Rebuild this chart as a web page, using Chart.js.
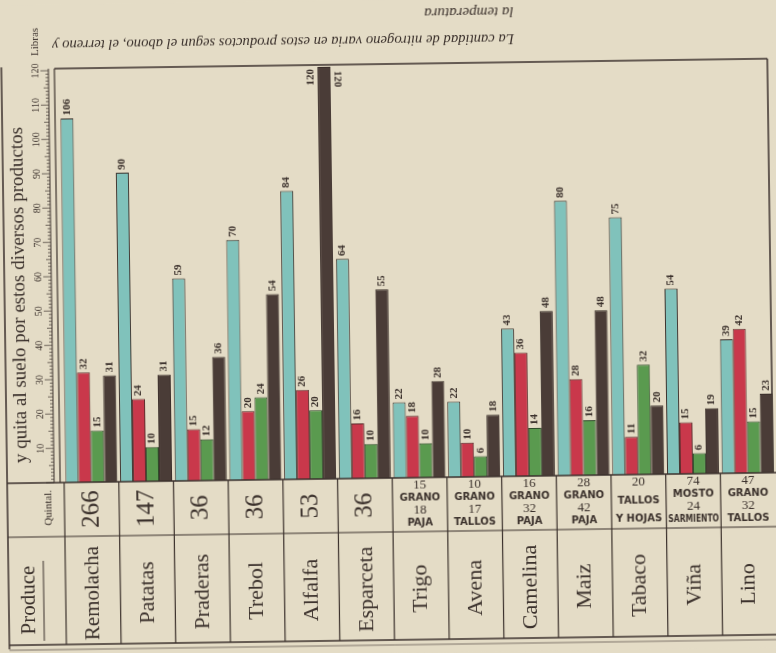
<!DOCTYPE html>
<html>
<head>
<meta charset="utf-8">
<script src="https://cdn.jsdelivr.net/npm/chart.js@4.4.0/dist/chart.umd.min.js"></script>
<style>
  html, body { margin: 0; padding: 0; background: #e4dcc6; overflow: hidden; }
  /* la lamina original esta escaneada algo torcida */
  canvas { display: block; transform: rotate(-0.8deg); }
</style>
</head>
<body>
<canvas id="grafico" width="776" height="653"></canvas>
<script>
// datos (libras de nitrogeno por producto)
const productos = ['Remolacha', 'Patatas', 'Praderas', 'Trebol', 'Alfalfa', 'Esparceta', 'Trigo', 'Avena', 'Camelina', 'Maiz', 'Tabaco', 'Viña', 'Lino'];
const quintales = [
  ['266'], ['147'], ['36'], ['36'], ['53'], ['36'],
  ['15', 'GRANO', '18', 'PAJA'],
  ['10', 'GRANO', '17', 'TALLOS'],
  ['16', 'GRANO', '32', 'PAJA'],
  ['28', 'GRANO', '42', 'PAJA'],
  ['20', 'TALLOS', 'Y HOJAS'],
  ['74', 'MOSTO', '24', 'SARMIENTO'],
  ['47', 'GRANO', '32', 'TALLOS']
];
const serieAzul  = [106, 90, 59, 70, 84, 64, 22, 22, 43, 80, 75, 54, 39];
const serieRoja  = [32, 24, 15, 20, 26, 16, 18, 10, 36, 28, 11, 15, 42];
const serieVerde = [15, 10, 12, 24, 20, 10, 10, 6, 14, 16, 32, 6, 15];
const serieNegra = [31, 31, 36, 54, 120, 55, 28, 18, 48, 48, 20, 19, 23];
const escala = [10, 20, 30, 40, 50, 60, 70, 80, 90, 100, 110, 120];

const fondo = '#e4dcc6';
const tinta = '#3b312c';
const serif = '"Liberation Serif", "DejaVu Serif", serif';

function textoVertical(ctx, txt, x, y, font, align, maxW, giro) {
  ctx.save();
  ctx.translate(x, y);
  ctx.rotate(giro || -Math.PI / 2);
  ctx.font = font;
  ctx.textAlign = align;
  ctx.textBaseline = 'middle';
  if (maxW) ctx.fillText(txt, 0, 0, maxW);
  else ctx.fillText(txt, 0, 0);
  ctx.restore();
}

function linea(ctx, x1, y1, x2, y2, w) {
  ctx.beginPath();
  ctx.lineWidth = w || 1;
  ctx.moveTo(x1, y1);
  ctx.lineTo(x2, y2);
  ctx.stroke();
}

const tablaPlugin = {
  id: 'tabla',
  beforeDraw(chart) {
    const ctx = chart.ctx;
    ctx.save();
    ctx.fillStyle = fondo;
    ctx.fillRect(0, 0, chart.width, chart.height);
    ctx.restore();
  },
  afterDatasetsDraw(chart) {
    const ctx = chart.ctx;
    const area = chart.chartArea;
    ctx.save();
    ctx.fillStyle = tinta;
    chart.data.datasets.forEach((ds, i) => {
      chart.getDatasetMeta(i).data.forEach((bar, j) => {
        const v = String(ds.data[j]);
        const f = 'bold 11px ' + serif;
        if (bar.y - 24 < area.top) {
          // la barra llega al borde: cifra a cada lado
          textoVertical(ctx, v, bar.x - bar.width / 2 - 7, bar.y + 2, f, 'right');
          textoVertical(ctx, v, bar.x + bar.width / 2 + 7, bar.y + 4, f, 'left', 0, Math.PI / 2);
        } else {
          textoVertical(ctx, v, bar.x, bar.y - 3, f, 'left');
        }
      });
    });
    ctx.restore();
  },
  afterDraw(chart) {
    const ctx = chart.ctx;
    const x = chart.scales.x;
    const y = chart.scales.y;
    const area = chart.chartArea;
    const base = area.bottom;
    const filaQ = base + 54;
    const fin = 640;
    const ancho = (area.right - area.left) / productos.length;
    ctx.save();
    ctx.strokeStyle = tinta;
    ctx.fillStyle = tinta;

    // marcos
    linea(ctx, 5, 62, 5, fin + 4, 1.5);
    linea(ctx, area.left - 4, area.top - 2, area.right - 2, area.top - 2, 1.5);
    linea(ctx, area.right - 2, area.top - 2, area.right - 2, base, 1.5);
    linea(ctx, area.left - 4, area.top - 2, area.left - 4, base, 1.2);
    linea(ctx, 5, base, chart.width, base, 1.5);
    linea(ctx, 5, filaQ, chart.width, filaQ, 1.2);
    linea(ctx, 5, fin, chart.width, fin, 1.5);
    linea(ctx, 5, fin + 5, chart.width, fin + 5, 0.6);
    linea(ctx, area.left, base, area.left, fin, 1.2);

    // regla de libras
    const rx = area.left - 10;
    linea(ctx, rx, area.top - 2, rx, base, 1);
    for (let v = 0; v <= 120; v++) {
      const py = y.getPixelForValue(v);
      const l = v % 10 === 0 ? 8 : (v % 5 === 0 ? 5 : 3);
      linea(ctx, rx - l, py, rx, py, 0.7);
    }
    escala.forEach(v => {
      textoVertical(ctx, String(v), rx - 13, y.getPixelForValue(v), '10px ' + serif, 'center');
    });
    textoVertical(ctx, 'Libras', rx - 13, area.top - 15, '11px ' + serif, 'left');

    // titulos
    textoVertical(ctx, 'y quita al suelo por estos diversos productos', 20, 458, '19px ' + serif, 'left', 356);
    ctx.save();
    ctx.font = 'italic 15px ' + serif;
    ctx.textAlign = 'left';
    ctx.textBaseline = 'middle';
    ctx.translate(518, 40);
    ctx.rotate(Math.PI);
    ctx.fillText('La cantidad de nitrogeno varia en estos productos segun el abono, el terreno y', 0, 0, 462);
    ctx.fillText('la temperatura', 0, 27);
    ctx.restore();

    // cabecera de la tabla
    textoVertical(ctx, 'Quintal.', 46, base + 25, '11px ' + serif, 'center');
    textoVertical(ctx, 'Produce', 25, 595, '21px ' + serif, 'center');
    linea(ctx, 40, 556, 40, 636, 1);

    // columnas
    productos.forEach((p, i) => {
      const cx = x.getPixelForValue(i);
      const der = cx + ancho / 2;
      if (i < productos.length - 1) linea(ctx, der, base, der, fin, 1.2);
      textoVertical(ctx, p, cx, 589, '22px ' + serif, 'center', 94);
      const q = quintales[i];
      if (q.length === 1) {
        textoVertical(ctx, q[0], cx, base + 27, '25px ' + serif, 'center');
      } else {
        const paso = q.length === 3 ? 18 : 12.5;
        q.forEach((t, k) => {
          const numero = /^\d+$/.test(t);
          ctx.font = numero ? '13px ' + serif : 'bold 10px "DejaVu Sans", sans-serif';
          ctx.textAlign = 'center';
          ctx.textBaseline = 'middle';
          ctx.fillText(t, cx, base + 8 + k * paso, ancho - 4);
        });
      }
    });
    ctx.restore();
  }
};

const borde = { top: 1, left: 1, right: 1, bottom: 0 };

new Chart(document.getElementById('grafico'), {
  type: 'bar',
  data: {
    labels: productos,
    datasets: [
      { data: serieAzul, backgroundColor: '#80c2bb', borderColor: tinta, borderWidth: borde },
      { data: serieRoja, backgroundColor: '#c9384b', borderColor: '#5a2a2a', borderWidth: borde },
      { data: serieVerde, backgroundColor: '#5a9a4f', borderColor: '#2f4a2a', borderWidth: borde },
      { data: serieNegra, backgroundColor: '#4a3c37', borderColor: '#3a2e2a', borderWidth: borde }
    ]
  },
  options: {
    responsive: false,
    animation: false,
    devicePixelRatio: 1,
    layout: { padding: { left: 62, right: 3, top: 66, bottom: 175 } },
    plugins: { legend: { display: false }, tooltip: { enabled: false } },
    datasets: { bar: { categoryPercentage: 0.95, barPercentage: 1.0 } },
    scales: {
      x: { display: false },
      y: { display: false, min: 0, max: 120 }
    }
  },
  plugins: [tablaPlugin]
});
</script>
</body>
</html>
